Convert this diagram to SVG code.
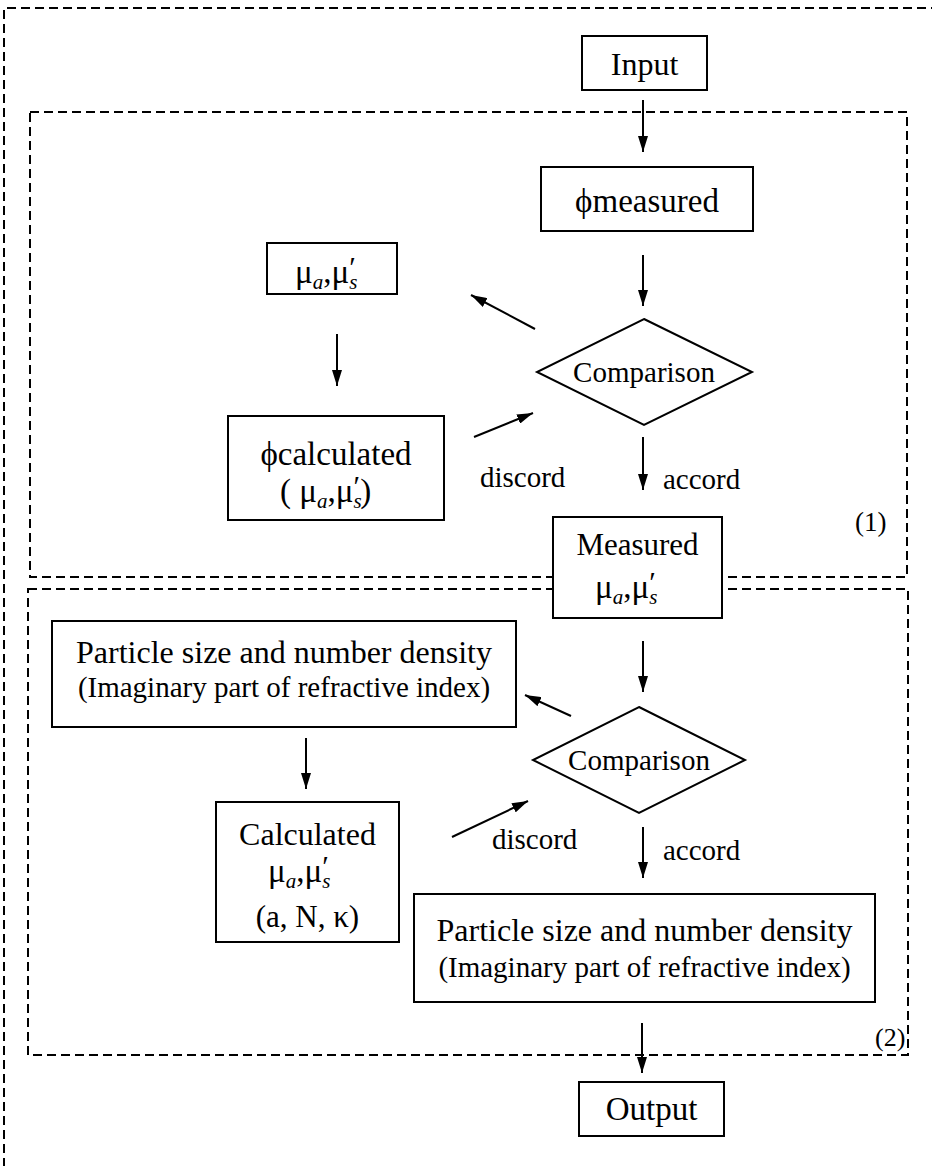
<svg xmlns="http://www.w3.org/2000/svg" width="932" height="1166" viewBox="0 0 932 1166">
<style>
.bx{fill:#fff;stroke:#000;stroke-width:2}
.ds{fill:none;stroke:#000;stroke-width:2;stroke-dasharray:9 5}
.ln{fill:none;stroke:#000;stroke-width:2}
.t{font-family:"Liberation Serif","Times New Roman",serif;fill:#000}
.sub{font-style:italic;font-size:21px}
.pr{font-size:30px}
</style>
<defs>
<marker id="ah" viewBox="0 0 16 10" refX="16" refY="5" markerWidth="16" markerHeight="10" markerUnits="userSpaceOnUse" orient="auto">
<path d="M0,0 L16,5 L0,10 z" fill="#000"/>
</marker>
</defs>
<rect width="932" height="1166" fill="#fff"/>
<g id="frames">
<path class="ds" d="M940,8 H4 V1170"/>
<rect class="ds" x="30" y="112" width="877" height="465"/>
<rect class="ds" x="28" y="589" width="880" height="466"/>
<text class="t" x="855" y="531" font-size="27">(1)</text>
<text class="t" x="875" y="1046" font-size="26">(2)</text>
</g>
<g id="connectors">
<line class="ln" x1="643" y1="100" x2="643" y2="152" marker-end="url(#ah)"/>
<line class="ln" x1="643" y1="255" x2="643" y2="306" marker-end="url(#ah)"/>
<line class="ln" x1="535" y1="329" x2="471" y2="295" marker-end="url(#ah)"/>
<line class="ln" x1="337" y1="334" x2="337" y2="386" marker-end="url(#ah)"/>
<line class="ln" x1="474" y1="437" x2="533" y2="413" marker-end="url(#ah)"/>
<line class="ln" x1="643" y1="437" x2="643" y2="490" marker-end="url(#ah)"/>
<line class="ln" x1="643" y1="641" x2="643" y2="692" marker-end="url(#ah)"/>
<line class="ln" x1="571" y1="716" x2="525" y2="695" marker-end="url(#ah)"/>
<line class="ln" x1="306" y1="738" x2="306" y2="789" marker-end="url(#ah)"/>
<line class="ln" x1="452" y1="837" x2="528" y2="801" marker-end="url(#ah)"/>
<line class="ln" x1="643" y1="827" x2="643" y2="878" marker-end="url(#ah)"/>
<line class="ln" x1="642" y1="1023" x2="642" y2="1073" marker-end="url(#ah)"/>
<text class="t" x="480" y="487" font-size="29">discord</text>
<text class="t" x="663" y="489" font-size="29">accord</text>
<text class="t" x="492" y="849" font-size="29">discord</text>
<text class="t" x="663" y="860" font-size="29">accord</text>
</g>
<g id="input">
<rect class="bx" x="582" y="36" width="125" height="54"/>
<text class="t" x="644.5" y="75" font-size="32" text-anchor="middle">Input</text>
</g>
<g id="phi-measured">
<rect class="bx" x="541" y="167" width="212" height="64"/>
<text class="t" x="647" y="212" font-size="33" text-anchor="middle">ϕmeasured</text>
</g>
<g id="comparison1">
<polygon class="bx" points="644,319 752,372 644,425 537,372"/>
<text class="t" x="644" y="382" font-size="29" text-anchor="middle">Comparison</text>
</g>
<g id="mu-box">
<rect class="bx" x="267" y="243" width="130" height="51"/>
<text class="t" x="295" y="283" font-size="33">μ<tspan class="sub" dy="6">a</tspan><tspan dy="-6">,μ</tspan><tspan class="sub" dy="6">s</tspan><tspan class="pr" dx="-8" dy="-12">′</tspan></text>
</g>
<g id="phi-calculated">
<rect class="bx" x="228" y="416" width="216" height="104"/>
<text class="t" x="336" y="465" font-size="33" text-anchor="middle">ϕcalculated</text>
<text class="t" x="280" y="502" font-size="33">( μ<tspan class="sub" dy="6">a</tspan><tspan dy="-6">,μ</tspan><tspan class="sub" dy="6">s</tspan><tspan class="pr" dx="-8" dy="-12">′</tspan><tspan dy="6">)</tspan></text>
</g>
<g id="measured">
<rect class="bx" x="553" y="517" width="169" height="101"/>
<text class="t" x="637.5" y="555" font-size="31" text-anchor="middle">Measured</text>
<text class="t" x="595" y="598" font-size="33">μ<tspan class="sub" dy="6">a</tspan><tspan dy="-6">,μ</tspan><tspan class="sub" dy="6">s</tspan><tspan class="pr" dx="-8" dy="-12">′</tspan></text>
</g>
<g id="particle1">
<rect class="bx" x="52" y="621" width="464" height="106"/>
<text class="t" x="284" y="663" font-size="32" text-anchor="middle">Particle size and number density</text>
<text class="t" x="284" y="697" font-size="29" text-anchor="middle">(Imaginary part of refractive index)</text>
</g>
<g id="comparison2">
<polygon class="bx" points="639,707 745,760 639,813 533,760"/>
<text class="t" x="639" y="770" font-size="29" text-anchor="middle">Comparison</text>
</g>
<g id="calculated">
<rect class="bx" x="216" y="802" width="183" height="140"/>
<text class="t" x="307.5" y="845" font-size="32" text-anchor="middle">Calculated</text>
<text class="t" x="268" y="882" font-size="33">μ<tspan class="sub" dy="6">a</tspan><tspan dy="-6">,μ</tspan><tspan class="sub" dy="6">s</tspan><tspan class="pr" dx="-8" dy="-12">′</tspan></text>
<text class="t" x="307.5" y="927" font-size="31" text-anchor="middle">(a, N, κ)</text>
</g>
<g id="particle2">
<rect class="bx" x="414" y="894" width="461" height="108"/>
<text class="t" x="644.5" y="941" font-size="32" text-anchor="middle">Particle size and number density</text>
<text class="t" x="644.5" y="977" font-size="29" text-anchor="middle">(Imaginary part of refractive index)</text>
</g>
<g id="output">
<rect class="bx" x="579" y="1082" width="145" height="54"/>
<text class="t" x="651.5" y="1120" font-size="33" text-anchor="middle">Output</text>
</g>
</svg>
